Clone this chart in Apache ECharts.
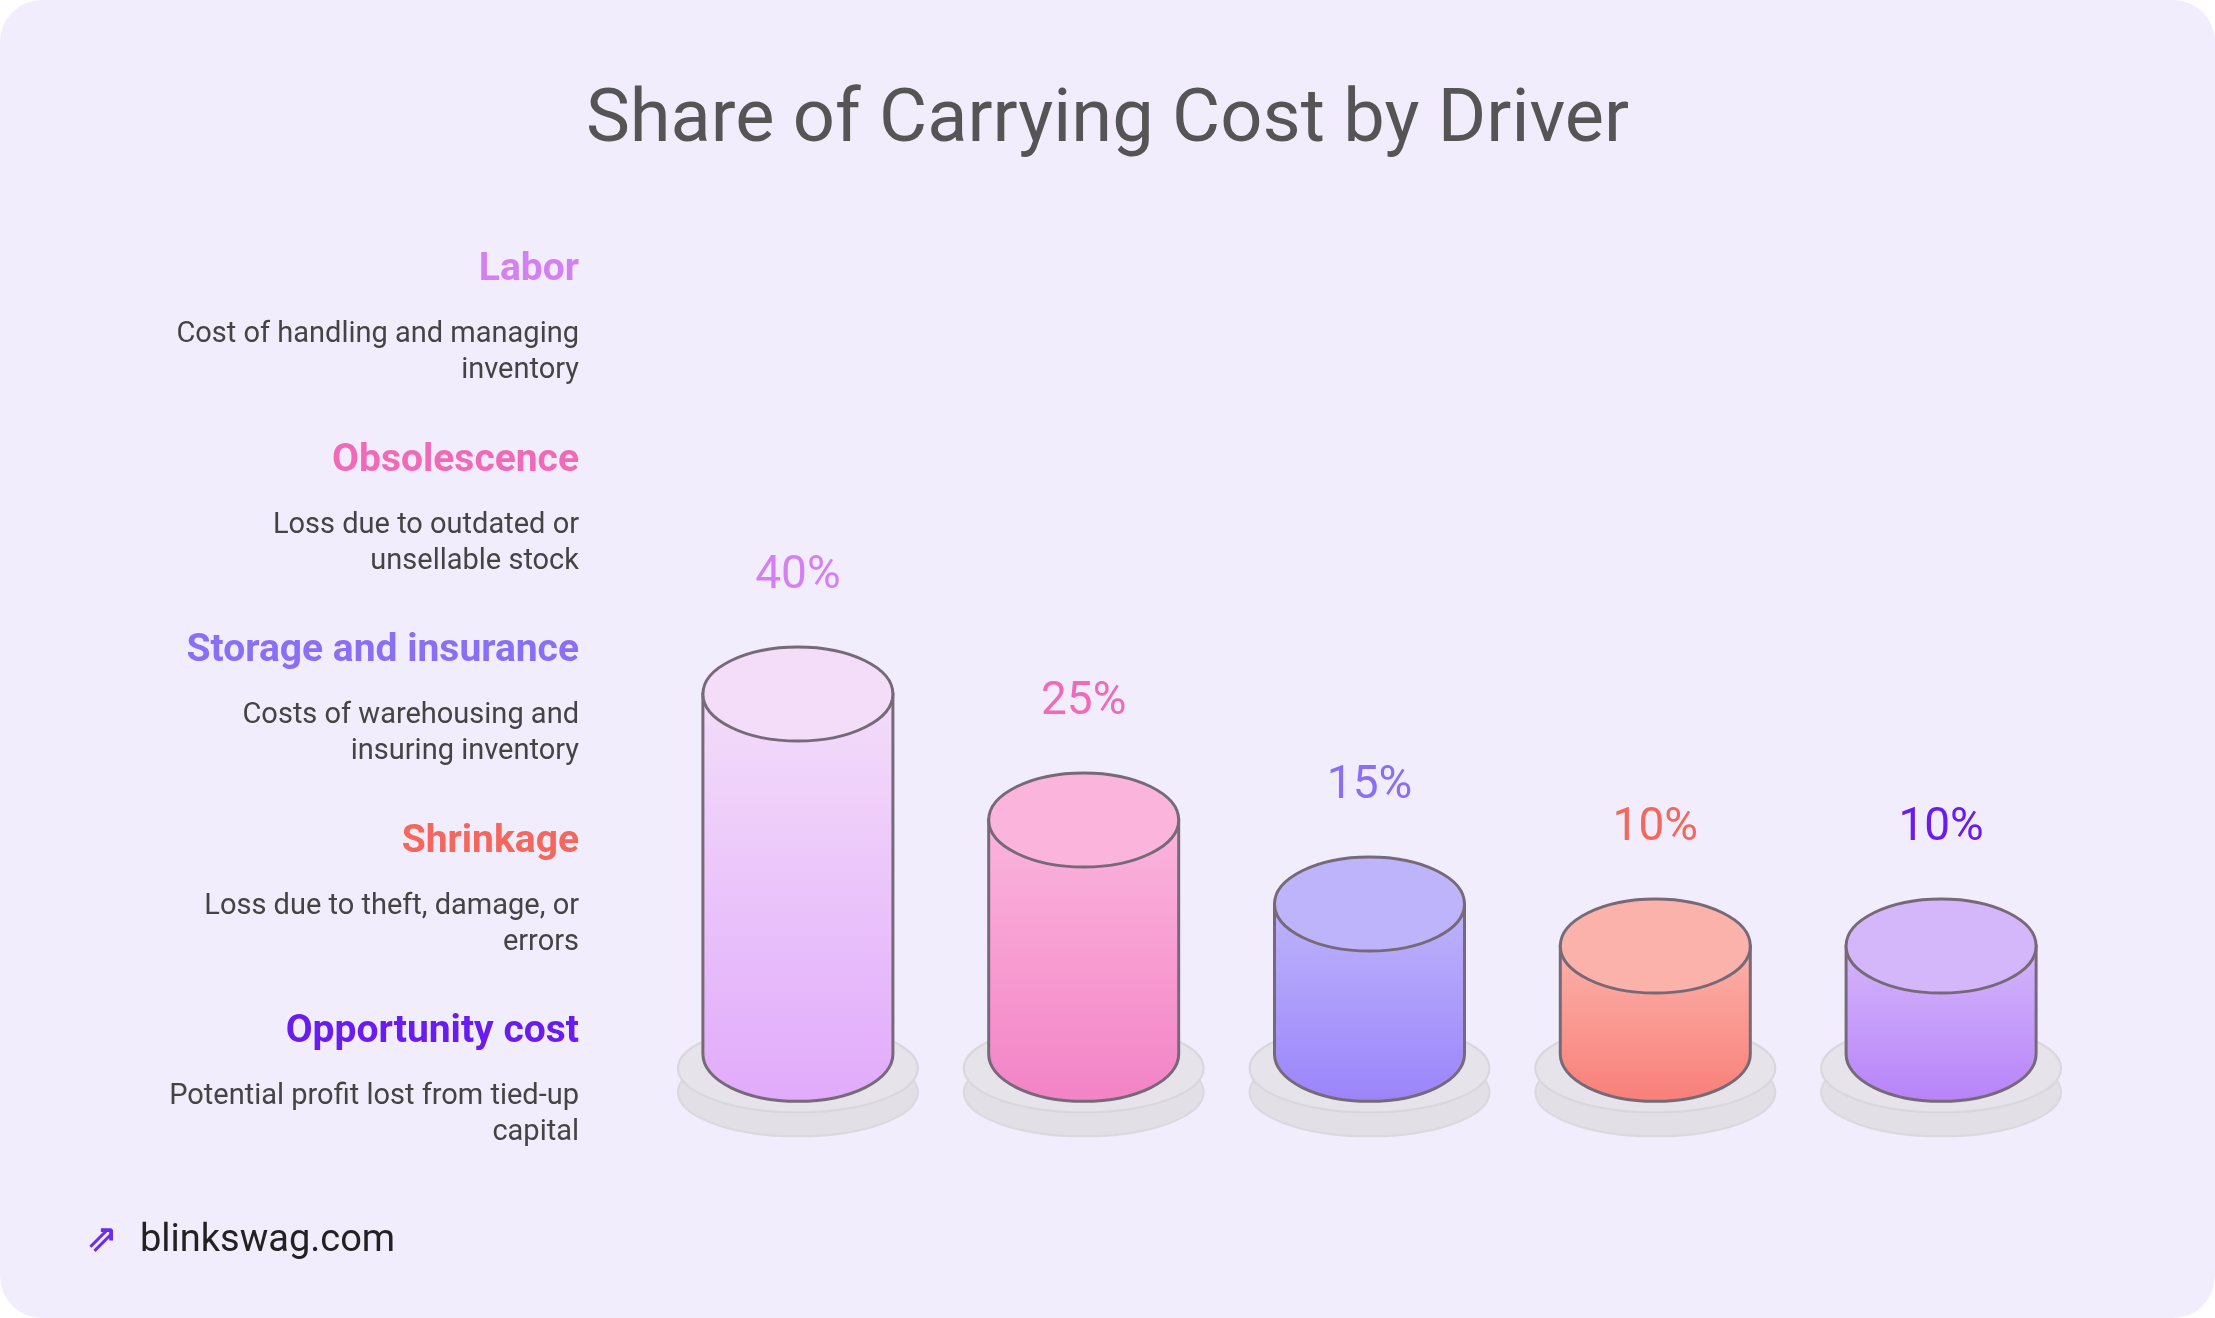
<!DOCTYPE html>
<html><head><meta charset="utf-8">
<script src="https://cdn.jsdelivr.net/npm/echarts@6/dist/echarts.min.js"></script>
<style>html,body{margin:0;padding:0;background:#fff}#c{width:2215px;height:1318px}</style>
</head><body><div id="c"></div>
<script>
const categories = ['Labor','Obsolescence','Storage and insurance','Shrinkage','Opportunity cost'];
const descriptions = [['Cost of handling and managing','inventory'],['Loss due to outdated or','unsellable stock'],['Costs of warehousing and','insuring inventory'],['Loss due to theft, damage, or','errors'],['Potential profit lost from tied-up','capital']];
const values = [40,25,15,10,10];
const labelColors = ['#d580f2','#f06ab8','#8a6ff5','#f4675c','#6a1cf0'];
const topColors = ['#f3ddf9','#fbb5dd','#bdb4fb','#fbb2aa','#d4b6fb'];
const bottomColors = ['#e1aafb','#f383c6','#9b84fa','#f87f78','#b783f9'];
const baseValue = -2.9;

const chart = echarts.init(document.getElementById('c'));
const g = [];
g.push({type:'rect',shape:{x:0,y:0,width:2215,height:1318,r:42},style:{fill:'#f1edfc'},z:-10});
categories.forEach((c,i)=>{
  const y0 = 277 + i*190.5;
  g.push({type:'text',right:2215-579,top:y0-26,style:{text:c,font:'bold 39px Roboto',fill:labelColors[i],textAlign:'right'}});
  g.push({type:'text',right:2215-579,top:y0+40,style:{text:descriptions[i].join('\n'),font:'29px Roboto',fill:'#444',textAlign:'right',lineHeight:36}});
});
g.push({type:'text',left:140,top:1222,style:{text:'blinkswag.com',font:'38px Roboto',fill:'#222'}});
g.push({type:'text',left:86,top:1222,style:{text:'⇗',font:'bold 38px DejaVu Sans',fill:'#6a2ee8'}});

chart.setOption({
  animation:false,
  title:{text:'Share of Carrying Cost by Driver',left:'center',top:80,textStyle:{fontFamily:'Roboto',fontWeight:'normal',fontSize:74,color:'#555'}},
  graphic:g,
  grid:{left:655,right:131,top:610,bottom:246},
  xAxis:{type:'category',data:categories,show:false},
  yAxis:{type:'value',min:-5,max:50,show:false},
  series:[{
    type:'custom',
    data:values.map((v,i)=>[i,v]),
    renderItem:(params,api)=>{
      const i=api.value(0), v=api.value(1);
      const top=api.coord([i,v]), bot=api.coord([i,baseValue]);
      const cx=top[0], rx=95, ry=47, ty=top[1], by=bot[1];
      const stroke='#776a78';
      const grad=new echarts.graphic.LinearGradient(0,0,0,1,[{offset:0,color:topColors[i]},{offset:1,color:bottomColors[i]}]);
      return {type:'group',children:[
        {type:'ellipse',shape:{cx:cx,cy:by+38,rx:120,ry:44},style:{fill:'#e2dfe6',stroke:'#dcd8e0',lineWidth:2}},
        {type:'ellipse',shape:{cx:cx,cy:by+14,rx:120,ry:44},style:{fill:'#e6e3ea',stroke:'#dad6de',lineWidth:2}},
        {type:'path',shape:{pathData:`M${cx-rx},${ty} L${cx-rx},${by} A${rx},${ry} 0 0 0 ${cx+rx},${by} L${cx+rx},${ty} Z`},style:{fill:grad,stroke:stroke,lineWidth:3}},
        {type:'ellipse',shape:{cx:cx,cy:ty,rx:rx,ry:ry},style:{fill:topColors[i],stroke:stroke,lineWidth:3}},
        {type:'text',x:cx,y:ty-ry-48,style:{text:v+'%',font:'46px Roboto',fill:labelColors[i],align:'center',verticalAlign:'bottom'}}
      ]};
    }
  }]
});
</script></body></html>
